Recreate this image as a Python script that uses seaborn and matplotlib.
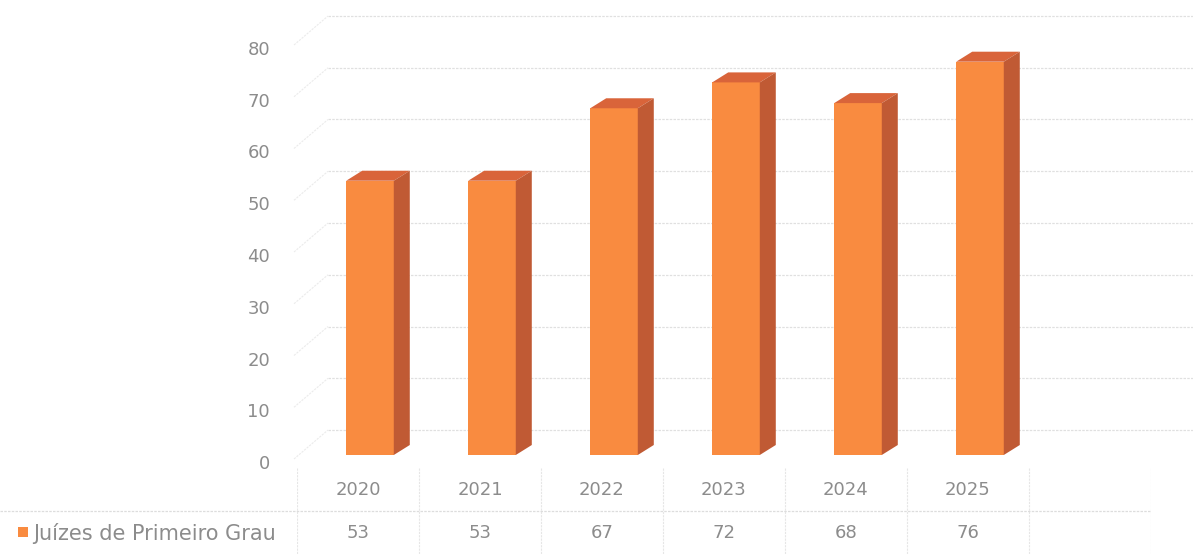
import numpy as np
import pandas as pd
import seaborn as sns
import matplotlib.pyplot as plt
from matplotlib.patches import Polygon, Rectangle
from matplotlib.lines import Line2D
from matplotlib.transforms import ScaledTranslation

# data
years = ["2020", "2021", "2022", "2023", "2024", "2025"]
juizes = [53, 53, 67, 72, 68, 76]
series_name = "Juízes de Primeiro Grau"
yticks = [0, 10, 20, 30, 40, 50, 60, 70, 80]

df = pd.DataFrame({"ano": years, "valor": juizes})

# colours
front_col = "#F98B40"
top_col = "#D9643A"
side_col = "#C05A34"
grid_col = "#E0E0E0"
text_col = "#8C8C8C"

W, H, DPI = 1193, 554, 100
fig = plt.figure(figsize=(W / DPI, H / DPI), dpi=DPI)
sns.set_style("white")
plt.rcParams["font.family"] = ["DejaVu Sans"]

def px(x, y):
    # pixel (from top-left) -> figure fraction
    return x / W, 1 - y / H

ncol = 7          # six years + one empty column in the data table
cell = 122
tab_left = 297
shift = 12        # front plane of bars sits a bit right of the table cells
y0, y80 = 455, 41

ax = fig.add_axes([(tab_left + shift) / W, (H - y0) / H,
                   ncol * cell / W, (y0 - y80) / H])
sns.barplot(data=df, x="ano", y="valor", color=front_col, width=0.39,
            saturation=1, linewidth=0, ax=ax, zorder=3)
ax.set_xlim(-0.5, ncol - 0.5)
ax.set_ylim(0, 80)
ax.set_yticks(yticks)
ax.set_yticklabels(yticks, fontsize=13, color=text_col)
ax.tick_params(axis="y", length=0, pad=28)
ax.tick_params(axis="x", length=0, labelbottom=False)
ax.set_xlabel("")
ax.set_ylabel("")
sns.despine(ax=ax, left=True, bottom=True)
ax.patch.set_alpha(0)
# axis labels sit slightly lower than the front plane
down = ScaledTranslation(0, -7 / DPI, fig.dpi_scale_trans)
for t in ax.yaxis.get_major_ticks():
    t.label1.set_transform(t.label1.get_transform() + down)

fig.canvas.draw()
inv = fig.transFigure.inverted()

def to_fig(pts):
    return inv.transform(np.asarray(pts))

# back wall gridlines + left wall diagonals
back_dy = 25
for v in yticks:
    xd, yd = ax.transData.transform((-0.5, v))
    yb = yd + back_dy
    a = to_fig([(328, yb), (W, yb)])
    fig.add_artist(Line2D(a[:, 0], a[:, 1], color=grid_col, lw=0.9,
                          ls=(0, (2, 1)), zorder=0))
    d = to_fig([(294, yd - 4), (328, yb)])
    fig.add_artist(Line2D(d[:, 0], d[:, 1], color="#EBEBEB", lw=0.8,
                          ls=(0, (2, 1)), zorder=0))

# depth faces of the bars
dx, dy = 16, 10
for p in ax.patches:
    x, w, h = p.get_x(), p.get_width(), p.get_height()
    (xl, yb), (xr, yt) = ax.transData.transform([(x, 0), (x + w, h)])
    top = to_fig([(xl, yt), (xr, yt), (xr + dx, yt + dy), (xl + dx, yt + dy)])
    side = to_fig([(xr, yb), (xr + dx, yb + dy), (xr + dx, yt + dy), (xr, yt)])
    fig.add_artist(Polygon(top, closed=True, fc=top_col, ec="none", zorder=4))
    fig.add_artist(Polygon(side, closed=True, fc=side_col, ec="none", zorder=4))

# data table
tab_top, tab_bot = 468, H
ax_t = fig.add_axes([tab_left / W, 0, ncol * cell / W, (tab_bot - tab_top) / H])
ax_t.set_xlim(-0.5, ncol - 0.5)
ax_t.set_ylim(tab_bot, tab_top)
ax_t.axis("off")
for i, (yr, v) in enumerate(zip(years, juizes)):
    ax_t.text(i, 490, yr, ha="center", va="center", fontsize=13, color=text_col)
    ax_t.text(i, 533, str(v), ha="center", va="center", fontsize=13, color=text_col)
for b in np.arange(-0.5, ncol, 1.0):
    ax_t.plot([b, b], [tab_top, tab_bot], color="#E6E6E6", lw=0.8, ls=(0, (2, 1)))
hl = to_fig([(0, H - 511), (tab_left + ncol * cell, H - 511)])
fig.add_artist(Line2D(hl[:, 0], hl[:, 1], color="#DDDDDD", lw=0.9, ls=(0, (2, 1))))

# row label with legend key
mx, my = px(18, 537)
fig.add_artist(Rectangle((mx, my), 10 / W, 10 / H, fc=front_col, ec="none"))
lx, ly = px(33, 533)
fig.text(lx, ly, series_name, ha="left", va="center", fontsize=15, color=text_col)

fig.savefig("out.png", dpi=DPI)
